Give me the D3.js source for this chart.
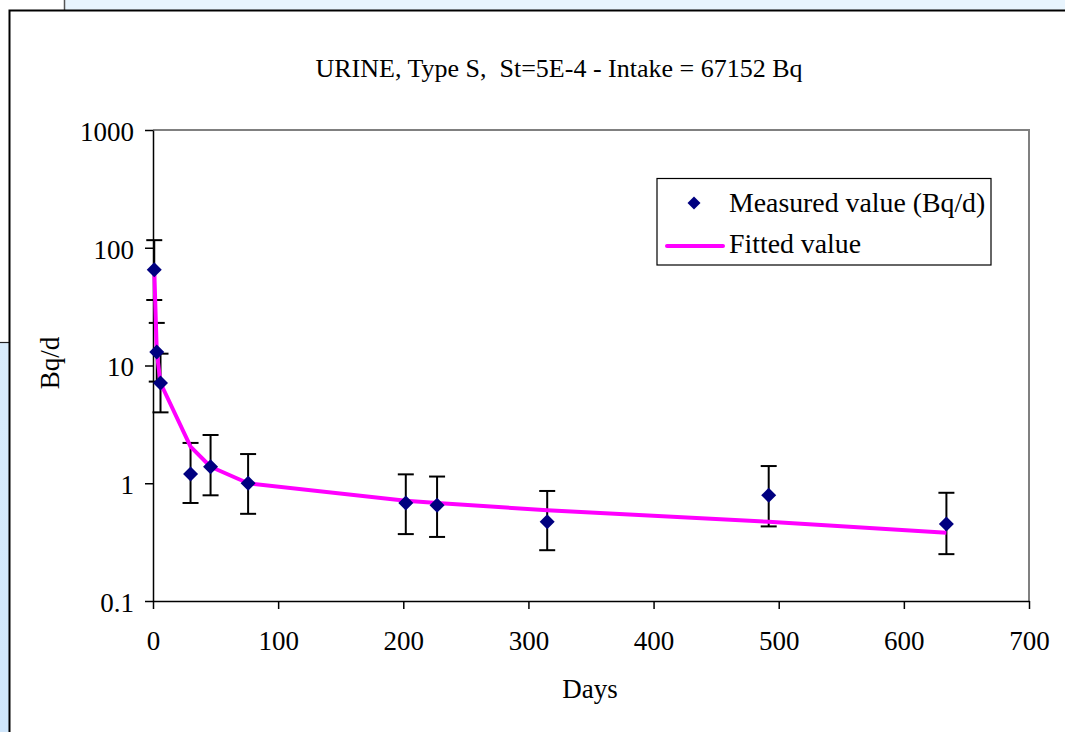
<!DOCTYPE html>
<html>
<head>
<meta charset="utf-8">
<script src="https://cdn.jsdelivr.net/npm/d3@7/dist/d3.min.js"></script>
<style>
  html, body { margin: 0; padding: 0; background: #ffffff; }
  svg { display: block; }
  text { font-family: "Liberation Serif", "Times New Roman", serif; fill: #000; }
</style>
</head>
<body>
<svg id="chart" width="1065" height="732"></svg>
<script>
// Urine excretion measurements (days after intake, Bq/d) with error ranges
const days      = [1, 3, 6, 30, 46, 76, 202, 227, 315, 492, 634];
const measured  = [65, 13, 7.1, 1.2, 1.38, 1.0, 0.68, 0.65, 0.47, 0.79, 0.45];
const errLow    = [36, 7.3, 4.0, 0.68, 0.79, 0.55, 0.37, 0.35, 0.27, 0.43, 0.25];
const errHigh   = [116, 23, 12.6, 2.2, 2.57, 1.77, 1.19, 1.14, 0.86, 1.40, 0.83];
const fitted    = [65, 13, 7.1, 2.05, 1.38, 1.0, 0.71, 0.68, 0.59, 0.47, 0.38];

const xTicks = [0, 100, 200, 300, 400, 500, 600, 700];
const yTicks = [0.1, 1, 10, 100, 1000];
const yTickLabels = ["0.1", "1", "10", "100", "1000"];

const titleText = "URINE, Type S,  St=5E-4 - Intake = 67152 Bq";
const xTitle = "Days";
const yTitle = "Bq/d";
const legendLabels = ["Measured value (Bq/d)", "Fitted value"];

const FS = 27;

const svg = d3.select("#chart");

// Surrounding page pieces
const bg = svg.append("g");
bg.append("rect").attr("x", 65).attr("y", 0).attr("width", 1000).attr("height", 10).attr("fill", "#e8f4fd");
bg.append("line").attr("x1", 64.5).attr("x2", 64.5).attr("y1", 0).attr("y2", 10).attr("stroke", "#555").attr("stroke-width", 1.5);
const grad = svg.append("defs").append("linearGradient").attr("id", "side").attr("x1", 0).attr("x2", 0).attr("y1", 0).attr("y2", 1);
grad.append("stop").attr("offset", "0%").attr("stop-color", "#d9ecfc");
grad.append("stop").attr("offset", "100%").attr("stop-color", "#cfe6fb");
bg.append("rect").attr("x", 0).attr("y", 343).attr("width", 9).attr("height", 389).attr("fill", "url(#side)");
bg.append("line").attr("x1", 0).attr("x2", 9).attr("y1", 342.5).attr("y2", 342.5).attr("stroke", "#222").attr("stroke-width", 1.2);

// Chart frame
bg.append("rect").attr("x", 9.5).attr("y", 10.5).attr("width", 1070).attr("height", 740)
  .attr("fill", "#ffffff").attr("stroke", "#000").attr("stroke-width", 2);

const x = d3.scaleLinear().domain([0, 700]).range([153, 1029]);
const y = d3.scaleLog().domain([0.1, 1000]).range([601, 130]);

// Plot area border (top/right)
svg.append("path")
  .attr("d", `M${x(0)},${y(1000)}H${x(700)}V${y(0.1)}`)
  .attr("fill", "none").attr("stroke", "#808080").attr("stroke-width", 2);

// Axes
const xAxis = svg.append("g").attr("transform", `translate(0,${y(0.1)})`)
  .call(d3.axisBottom(x).tickValues(xTicks).tickSize(8).tickSizeOuter(0).tickPadding(22).tickFormat(d3.format("d")));
const yAxis = svg.append("g").attr("transform", `translate(${x(0)},0)`)
  .call(d3.axisLeft(y).tickValues(yTicks).tickSize(8).tickSizeOuter(0).tickPadding(11)
    .tickFormat((d, i) => yTickLabels[i]));
[xAxis, yAxis].forEach(g => {
  g.select(".domain").attr("stroke", "#000").attr("stroke-width", 1.5);
  g.selectAll(".tick line").attr("stroke", "#000").attr("stroke-width", 1.5);
  g.selectAll(".tick text").attr("font-family", "Liberation Serif").attr("font-size", FS).attr("fill", "#000");
});
yAxis.selectAll(".tick text").attr("dy", "0.38em");

// Titles
svg.append("text").attr("x", 559).attr("y", 77).attr("text-anchor", "middle")
  .attr("font-size", 26).style("white-space", "pre").attr("xml:space", "preserve").text(titleText);
svg.append("text").attr("x", 590).attr("y", 698).attr("text-anchor", "middle")
  .attr("font-size", FS).text(xTitle);
svg.append("text").attr("transform", "translate(59,363) rotate(-90)").attr("text-anchor", "middle")
  .attr("font-size", FS).text(yTitle);

const data = days.map((d, i) => ({ d, v: measured[i], lo: errLow[i], hi: errHigh[i], f: fitted[i] }));

// Error bars
const eb = svg.append("g").attr("stroke", "#000").attr("stroke-width", 2);
data.forEach(p => {
  const cx = x(p.d);
  eb.append("line").attr("x1", cx).attr("x2", cx).attr("y1", y(p.lo)).attr("y2", y(p.hi));
  eb.append("line").attr("x1", cx - 8).attr("x2", cx + 8).attr("y1", y(p.lo)).attr("y2", y(p.lo));
  eb.append("line").attr("x1", cx - 8).attr("x2", cx + 8).attr("y1", y(p.hi)).attr("y2", y(p.hi));
});

// Fitted curve
svg.append("path").datum(data)
  .attr("d", d3.line().x(p => x(p.d)).y(p => y(p.f)))
  .attr("fill", "none").attr("stroke", "#ff00ff").attr("stroke-width", 4).attr("stroke-linejoin", "round");

// Measured markers
const diamond = "M0,-7.5L7.5,0L0,7.5L-7.5,0Z";
svg.append("g").selectAll("path").data(data).join("path")
  .attr("d", diamond)
  .attr("transform", p => `translate(${x(p.d)},${y(p.v)})`)
  .attr("fill", "#000080");

// Legend
const lg = svg.append("g");
lg.append("rect").attr("x", 657).attr("y", 178.5).attr("width", 334).attr("height", 86.5)
  .attr("fill", "#fff").attr("stroke", "#000").attr("stroke-width", 1.2);
lg.append("path").attr("d", "M0,-6.5L6.5,0L0,6.5L-6.5,0Z").attr("transform", "translate(694,203)").attr("fill", "#000080");
lg.append("text").attr("x", 729).attr("y", 212).attr("font-size", 27.8).text(legendLabels[0]);
lg.append("line").attr("x1", 667).attr("x2", 723).attr("y1", 246).attr("y2", 246)
  .attr("stroke", "#ff00ff").attr("stroke-width", 4).attr("stroke-linecap", "round");
lg.append("text").attr("x", 729).attr("y", 253).attr("font-size", 27.8).text(legendLabels[1]);
</script>
</body>
</html>
